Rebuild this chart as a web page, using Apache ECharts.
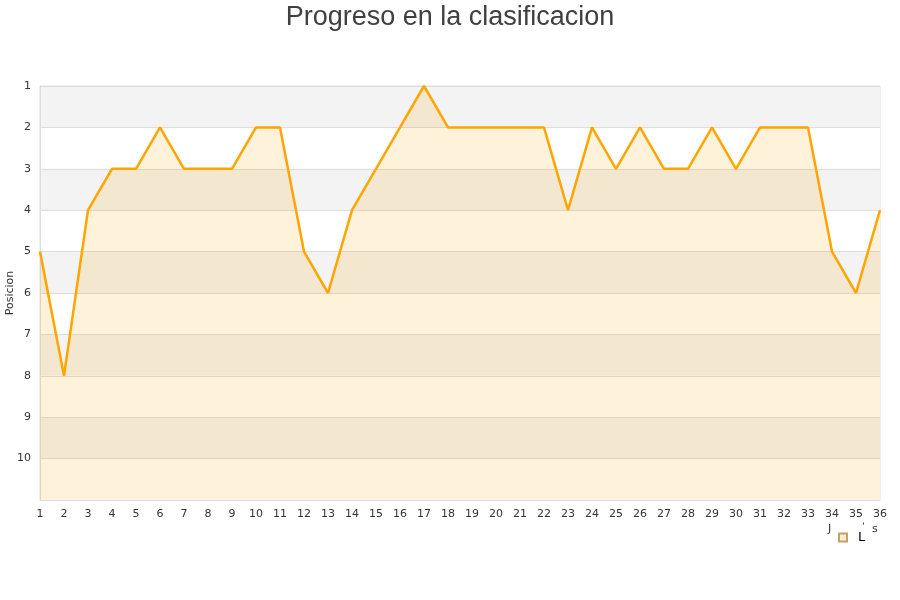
<!DOCTYPE html>
<html><head><meta charset="utf-8">
<script src="https://cdn.jsdelivr.net/npm/echarts@6/dist/echarts.min.js"></script>
<style>html,body{margin:0;padding:0;background:#fff}#c{width:900px;height:600px}</style>
</head><body><div id="c"></div>
<script>
const categories = ['1','2','3','4','5','6','7','8','9','10','11','12','13','14','15','16','17','18','19','20','21','22','23','24','25','26','27','28','29','30','31','32','33','34','35','36'];
const positions = [5,8,4,3,3,2,3,3,3,2,2,5,6,4,3,2,1,2,2,2,2,2,4,2,3,2,3,3,2,3,2,2,2,5,6,4];
const seriesName = 'L';

const chart = echarts.init(document.getElementById('c'));
chart.setOption({
  animation: false,
  title: {
    text: 'Progreso en la clasificacion',
    left: 'center', top: -1,
    textStyle: { fontFamily: 'Liberation Sans, Arial, sans-serif', fontSize: 27, fontWeight: 'normal', color: '#404040' }
  },
  grid: { left: 40, right: 20, top: 86, bottom: 100, show: true, borderColor: '#ddd', borderWidth: 1, backgroundColor: 'transparent', containLabel: false, outerBoundsMode: 'none' },
  legend: {
    data: [{ name: seriesName, icon: 'rect' }],
    left: 833, top: 526, itemWidth: 8, itemHeight: 8, itemGap: 4,
    textStyle: { color: '#000', fontSize: 13, fontFamily: 'DejaVu Sans', padding: [0,0,0,6] },
    selectedMode: false
  },
  graphic: [
    { type: 'text', left: 828, top: 524, style: { text: 'J', fontSize: 11, fontFamily: 'DejaVu Sans', fill: '#333' } },
    { type: 'text', left: 862, top: 523, style: { text: '\u02B9', fontSize: 10, fontFamily: 'DejaVu Sans', fill: '#333' } },
    { type: 'text', left: 872, top: 524, style: { text: 's', fontSize: 11, fontFamily: 'DejaVu Sans', fill: '#333' } }
  ],
  xAxis: {
    type: 'category', data: categories, boundaryGap: false,
    axisLine: { show: true, lineStyle: { color: '#ddd' } },
    axisTick: { show: false },
    axisLabel: { color: '#333', fontSize: 11, fontFamily: 'DejaVu Sans', margin: 9, interval: 0 },
    splitLine: { show: false }
  },
  yAxis: {
    type: 'value', inverse: true, min: 1, max: 11, interval: 1,
    name: 'Posicion', nameLocation: 'middle', nameGap: 24, nameMoveOverlap: false,
    nameTextStyle: { color: '#333', fontSize: 11, fontFamily: 'DejaVu Sans' },
    axisLine: { show: true, lineStyle: { color: '#ddd' } },
    axisTick: { show: false },
    axisLabel: { color: '#333', fontSize: 11, fontFamily: 'DejaVu Sans', margin: 9,
      formatter: v => v === 11 ? '' : String(v) },
    splitLine: { show: true, lineStyle: { color: '#ddd' } },
    splitArea: { show: true, areaStyle: { color: ['#f3f3f3', '#ffffff'] } }
  },
  series: [{
    name: seriesName, type: 'line', data: positions,
    symbol: 'none', smooth: false,
    lineStyle: { color: '#FFA500', width: 2.5 },
    itemStyle: { color: '#FFEDCC', borderColor: '#c8a070', borderWidth: 0.5 },
    areaStyle: { origin: 'end', color: 'rgba(255,165,0,0.2)' }
  }]
});
</script></body></html>
